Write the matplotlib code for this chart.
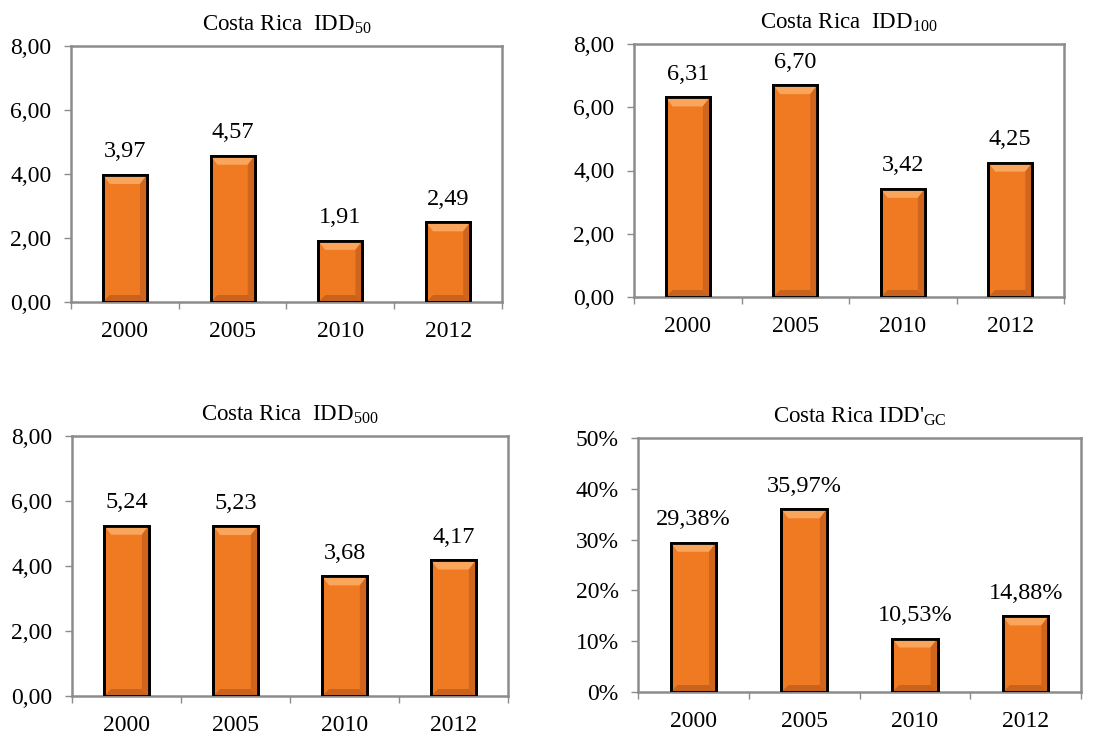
import numpy as np
import matplotlib
matplotlib.use("Agg")
import matplotlib.pyplot as plt
from matplotlib.patches import Polygon

plt.rcParams['font.family'] = ['Liberation Serif', 'DejaVu Serif']
plt.rcParams['mathtext.fontset'] = 'custom'
plt.rcParams['mathtext.rm'] = 'Liberation Serif'
plt.rcParams['mathtext.it'] = 'Liberation Serif'
plt.rcParams['mathtext.default'] = 'regular'

years = ['2000', '2005', '2010', '2012']
idd50 = [3.97, 4.57, 1.91, 2.49]
idd100 = [6.31, 6.70, 3.42, 4.25]
idd500 = [5.24, 5.23, 3.68, 4.17]
idd_gc = [29.38, 35.97, 10.53, 14.88]

titles = ['Costa Rica  IDD$_{50}$', 'Costa Rica  IDD$_{100}$',
          'Costa Rica  IDD$_{500}$', "Costa Rica IDD'$_{GC}$"]

BAR = '#F07A22'
LIGHT = '#F9A65C'
DARK = '#A8501A'
SIDE = '#D0651D'
FRAME = '#8C8C8C'

fig = plt.figure(figsize=(10.94, 7.38), dpi=100)
W, H = 1094, 738

def box(x0, x1, y0, y1):
    return [x0 / W, 1 - y1 / H, (x1 - x0) / W, (y1 - y0) / H]

boxes = [box(71, 502, 46, 302), box(634, 1064, 44, 297),
         box(72, 508, 436, 696), box(638, 1081, 438, 692)]


def fmt(v, pct=False):
    if pct:
        return f'{v:.2f}'.replace('.', ',') + '%'
    return f'{v:.2f}'.replace('.', ',')


def panel(rect, vals, title, ymax, step, pct=False):
    ax = fig.add_axes(rect)
    x = np.arange(len(vals))
    wid = 0.41
    ax.set_xlim(-0.5, len(vals) - 0.5)
    ax.set_ylim(0, ymax)
    ax.bar(x, vals, width=wid, color=BAR, edgecolor='black', linewidth=2, zorder=2)

    # bevel size, pixels -> data
    wpx = rect[2] * W
    hpx = rect[3] * H
    dx = 7 / wpx * len(vals)
    dy = 9 / hpx * ymax
    db = 7 / hpx * ymax
    for xi, v in zip(x, vals):
        x0, x1 = xi - wid / 2, xi + wid / 2
        top = Polygon([(x0, v), (x1, v), (x1 - dx, v - dy), (x0 + dx, v - dy)],
                      closed=True, facecolor=LIGHT, edgecolor='none', zorder=3)
        bot = Polygon([(x0, 0), (x1, 0), (x1 - dx, db), (x0 + dx, db)],
                      closed=True, facecolor=DARK, edgecolor='none', zorder=3, alpha=0.55)
        right = Polygon([(x1, 0), (x1, v), (x1 - dx, v - dy), (x1 - dx, db)],
                        closed=True, facecolor=SIDE, edgecolor='none', zorder=3)
        for p in (top, bot, right):
            ax.add_patch(p)
        ax.bar(xi, v, width=wid, facecolor='none', edgecolor='black', linewidth=2, zorder=4)
        ax.annotate(fmt(v, pct), (xi, v), xytext=(0, 9), textcoords='offset points',
                    ha='center', va='bottom', fontsize=17.5)

    ticks = np.arange(0, ymax + step / 2, step)
    ax.set_yticks(ticks)
    if pct:
        ax.set_yticklabels([f'{int(t)}%' for t in ticks])
    else:
        ax.set_yticklabels([fmt(t) for t in ticks])
    ax.set_xticks(x)
    ax.set_xticklabels(years)
    ax.set_xticks(np.arange(-0.5, len(vals), 1), minor=True)
    ax.tick_params(axis='x', which='major', length=0, pad=14, labelsize=17)
    ax.tick_params(axis='x', which='minor', length=5, color=FRAME, width=1)
    ax.tick_params(axis='y', length=5, color=FRAME, width=1, labelsize=17, pad=9)
    for s in ax.spines.values():
        s.set_color(FRAME)
        s.set_linewidth(1.8)
    ax.set_title(title, fontsize=16.5, pad=11)
    return ax


panel(boxes[0], idd50, titles[0], 8, 2)
panel(boxes[1], idd100, titles[1], 8, 2)
panel(boxes[2], idd500, titles[2], 8, 2)
panel(boxes[3], idd_gc, titles[3], 50, 10, pct=True)

fig.savefig('out.png', dpi=100)
